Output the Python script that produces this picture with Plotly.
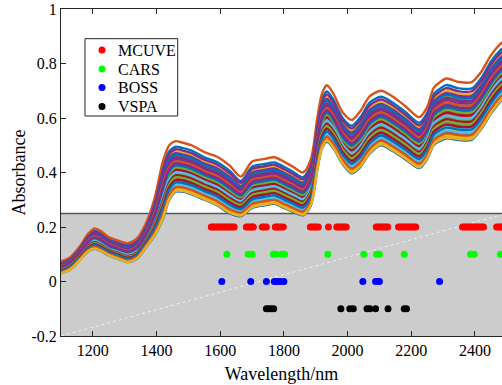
import plotly.graph_objects as go

# ---- spectra: anchor wavelengths and envelope curves ----
wl = [1100, 1130, 1160, 1185, 1205, 1225, 1250, 1280, 1310, 1340, 1370, 1395, 1420, 1440,
      1460, 1480, 1510, 1550, 1590, 1630, 1665, 1700, 1740, 1770, 1800, 1830, 1860, 1885,
      1905, 1920, 1935, 1955, 1985, 2013, 2040, 2070, 2105, 2140, 2180, 2225, 2250, 2270,
      2285, 2310, 2350, 2390, 2420, 2450, 2480, 2500]
top = [0.073, 0.09, 0.13, 0.175, 0.195, 0.185, 0.163, 0.15, 0.141, 0.16, 0.222, 0.31, 0.44, 0.50,
       0.515, 0.51, 0.50, 0.475, 0.458, 0.425, 0.385, 0.44, 0.45, 0.456, 0.44, 0.42, 0.40, 0.45,
       0.60, 0.69, 0.72, 0.69, 0.62, 0.593, 0.625, 0.68, 0.70, 0.68, 0.645, 0.603, 0.64, 0.71,
       0.727, 0.745, 0.732, 0.732, 0.77, 0.83, 0.872, 0.89]
bottom = [0.03, 0.045, 0.08, 0.11, 0.12, 0.112, 0.096, 0.083, 0.071, 0.085, 0.13, 0.17, 0.23, 0.30,
          0.33, 0.33, 0.32, 0.30, 0.28, 0.25, 0.24, 0.27, 0.28, 0.285, 0.27, 0.255, 0.243, 0.28,
          0.41, 0.49, 0.513, 0.49, 0.43, 0.397, 0.42, 0.47, 0.50, 0.48, 0.45, 0.416, 0.45, 0.50,
          0.513, 0.525, 0.519, 0.52, 0.56, 0.615, 0.66, 0.68]
# relative level of each sample spectrum within the band (draw order)
levels = [0.89, 1.00, 0.80, 0.84, 0.71, 0.62, 0.55, 0.00, 0.46, 0.06, 0.76, 0.66, 0.30, 0.50,
          0.73, 0.41, 0.58, 0.68, 0.35, 0.21, 0.43, 0.11, 0.26, 0.16, 0.64, 0.48, 0.38, 0.32,
          0.52, 0.60, 0.035, 0.56, 0.28, 0.13, 0.23, 0.18, 0.085, 0.015]
palette = ["#0072BD", "#D95319", "#EDB120", "#7E2F8E", "#77AC30", "#4DBEEE", "#A2142F"]

# ---- selected wavelengths ----
methods = ["MCUVE", "CARS", "BOSS", "VSPA"]
mcuve_wl = [1572, 1578, 1584, 1590, 1596, 1602, 1608, 1614, 1620, 1626, 1632, 1638, 1644,
            1682, 1688, 1694, 1700, 1704,
            1732, 1738, 1745,
            1773, 1779, 1785, 1791, 1798,
            1883, 1889, 1895, 1901, 1908,
            1940,
            1966, 1972, 1978, 1984, 1990, 1996,
            2090, 2096, 2102, 2108, 2114, 2120, 2126,
            2160, 2166, 2172, 2178, 2184, 2190, 2196, 2202, 2208, 2214,
            2361, 2367, 2373, 2379, 2385, 2391, 2397, 2403, 2409, 2415, 2421, 2427,
            2468, 2474, 2480, 2486, 2492, 2498]
cars_wl = [1621, 1688, 1700, 1767, 1776, 1794, 1802, 1938, 2051, 2091, 2100, 2178, 2386, 2398, 2480]
boss_wl = [1605, 1696, 1745, 1770, 1778, 1788, 1800, 2048, 2088, 2095, 2100, 2289]
vspa_wl = [1745, 1752, 1760, 1768, 1979, 2007, 2018, 2061, 2070, 2088, 2127, 2178, 2185]
sel_wl = [mcuve_wl, cars_wl, boss_wl, vspa_wl]
sel_levels = [0.2, 0.1, 0.0, -0.1]
sel_colors = ["#FF0000", "#00FF00", "#0000FF", "#000000"]

x_ticks = [1200, 1400, 1600, 1800, 2000, 2200, 2400]
y_ticks = [-0.2, 0, 0.2, 0.4, 0.6, 0.8, 1]
y_ticklabels = ["-0.2", "0", "0.2", "0.4", "0.6", "0.8", "1"]

FONT = "Liberation Serif"

fig = go.Figure()

for i, lv in enumerate(levels):
    ys = [b + lv * (t - b) for t, b in zip(top, bottom)]
    fig.add_trace(go.Scatter(x=wl, y=ys, mode="lines",
                             line=dict(color=palette[i % 7], width=2.4, shape="spline", smoothing=0.8),
                             showlegend=False, hoverinfo="skip"))

for name, xs, lv, col in zip(methods, sel_wl, sel_levels, sel_colors):
    fig.add_trace(go.Scatter(x=xs, y=[lv] * len(xs), mode="markers", name=name, showlegend=False,
                             marker=dict(color=col, size=7, line=dict(width=0))))

# shaded region for selected-variable rows
fig.add_shape(type="rect", x0=1100, x1=2500, y0=-0.2, y1=0.25, xref="x", yref="y",
              fillcolor="#CCCCCC", line=dict(width=0), layer="below")
fig.add_shape(type="line", x0=1100, x1=2500, y0=0.25, y1=0.25, xref="x", yref="y",
              line=dict(color="#555555", width=1.5), layer="below")
fig.add_shape(type="line", x0=1100, x1=2500, y0=-0.2, y1=0.25, xref="x", yref="y",
              line=dict(color="rgba(255,255,255,0.7)", width=1, dash="dot"), layer="below")

# legend box (drawn manually for MATLAB-like compact spacing)
fig.add_shape(type="rect", xref="paper", yref="paper", x0=0.0544, x1=0.2646, y0=0.6728, y1=0.9092,
              fillcolor="white", line=dict(color="#262626", width=1), layer="above")
leg_y = [0.8746, 0.8165, 0.760, 0.7018]
for name, col, yy in zip(methods, sel_colors, leg_y):
    fig.add_shape(type="circle", xref="paper", yref="paper", xsizemode="pixel", ysizemode="pixel",
                  xanchor=0.093, yanchor=yy, x0=-3.5, x1=3.5, y0=-3.5, y1=3.5,
                  fillcolor=col, line=dict(width=0), layer="above")
    fig.add_annotation(xref="paper", yref="paper", x=0.125, y=yy, text=name, showarrow=False,
                       xanchor="left", yanchor="middle", font=dict(family=FONT, size=16, color="black"))

fig.update_layout(
    width=502, height=385,
    margin=dict(l=61, r=0, t=9, b=49, autoexpand=False),
    paper_bgcolor="white", plot_bgcolor="white",
    font=dict(family=FONT, size=16, color="black"),
    showlegend=False,
    xaxis=dict(range=[1100, 2485], tickvals=x_ticks, ticks="inside", ticklen=5, tickcolor="#262626",
               showline=True, linecolor="#262626", linewidth=1, mirror="ticks", showgrid=False, zeroline=False,
               automargin=False,
               title=dict(text="Wavelength/nm", font=dict(family=FONT, size=18, color="black"), standoff=9),
               tickfont=dict(family=FONT, size=16, color="black")),
    yaxis=dict(range=[-0.2, 1], tickvals=y_ticks, ticktext=y_ticklabels, ticks="inside", ticklen=5,
               tickcolor="#262626", showline=True, linecolor="#262626", linewidth=1, mirror=False,
               showgrid=False, zeroline=False, automargin=False,
               title=dict(text="Absorbance", font=dict(family=FONT, size=18, color="black"), standoff=1),
               tickfont=dict(family=FONT, size=16, color="black")),
)

fig.write_html("out.html", config={"displayModeBar": False},
               post_script="document.body.style.margin='0';document.body.style.overflow='hidden';")
